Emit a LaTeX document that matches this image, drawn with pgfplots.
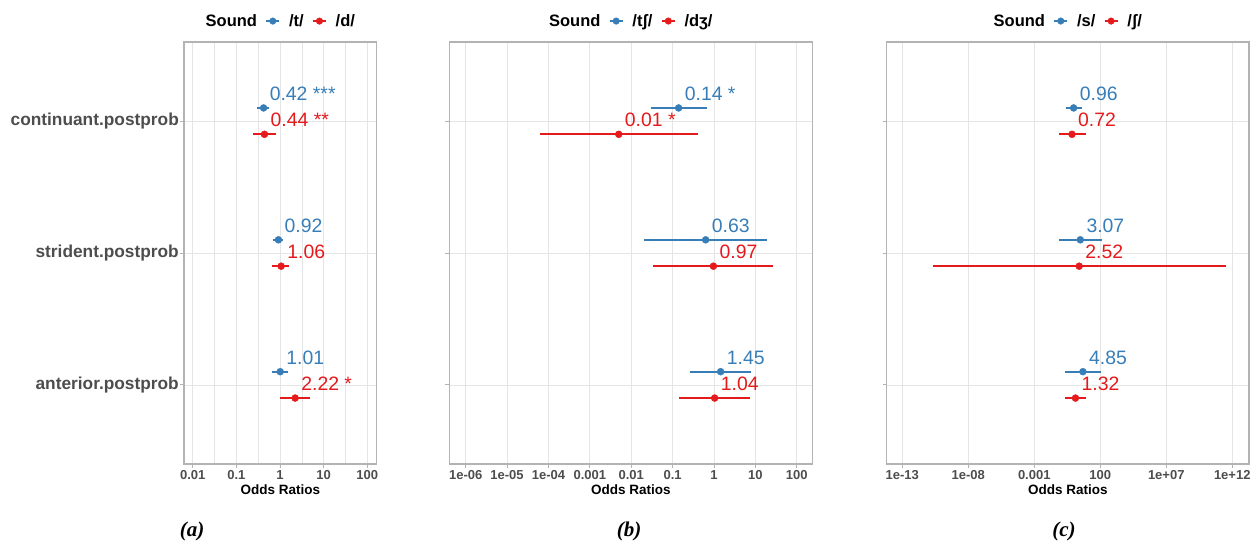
\documentclass[border=0pt]{standalone}
\usepackage{pgfplots}
\pgfplotsset{compat=1.18}
\usepackage{fontspec}
\setmainfont{Liberation Sans}
\newfontfamily\capfont{Liberation Serif}
\definecolor{blueC}{HTML}{377EB8}
\definecolor{redC}{HTML}{E41A1C}
\definecolor{gridC}{HTML}{E5E5E5}
\definecolor{frameC}{HTML}{B3B3B3}
\definecolor{textC}{HTML}{4D4D4D}
\newcommand{\ci}[4]{\addplot[#1, line width=1.8pt, forget plot] coordinates {(#2,#4) (#3,#4)};}
\pgfplotsset{
  every axis/.append style={
    scale only axis, height=422pt,
    ymin=0.4, ymax=3.6, ytick={1,2,3},
    axis line style={frameC, line width=1.2pt},
    tick style={frameC, line width=0.8pt}, tick align=outside, tick pos=left,
    major tick length=4pt, minor tick length=0pt,
    xmajorgrids, ymajorgrids, grid style={gridC, line width=0.7pt},
    minor grid style={gridC, line width=0.4pt},
    xticklabel style={font=\fontsize{13}{15}\selectfont\bfseries, text=textC, inner sep=0pt, yshift=-2pt},
    yticklabel style={font=\fontsize{17.3}{20}\selectfont\bfseries, text=textC, inner sep=0pt, xshift=-1pt},
    xlabel={Odds Ratios},
    xlabel style={font=\fontsize{13.5}{16}\selectfont\bfseries, at={(axis description cs:0.5,0)}, anchor=center, yshift=-26pt},
    legend columns=-1,
    legend style={draw=none, fill=none, at={(0.5,1)}, anchor=south, yshift=12pt, xshift=-3.5pt,
      font=\fontsize{16.5}{19}\selectfont\bfseries, inner sep=0pt,
      /tikz/every odd column/.append style={column sep=7pt},
      /tikz/every even column/.append style={column sep=6.5pt}},
  },
}
\begin{document}
\begin{tikzpicture}
\path[use as bounding box] (0pt,0pt) rectangle (1260pt,542pt);

% ---------- panel (a)
\begin{axis}[xmode=log, at={(184pt,78pt)}, anchor=south west, width=192.7pt,
  xmin=0.00631, xmax=164,
  xtick={0.01,0.1,1,10,100}, xticklabels={0.01,0.1,1,10,100},
  minor xtick={0.0316,0.316,3.16,31.6}, xminorgrids,
  yticklabels={anterior.postprob,strident.postprob,continuant.postprob}]
\addlegendimage{empty legend}\addlegendentry{Sound}
\addlegendimage{legend image code/.code={\draw[blueC,line width=1.5pt](0pt,0pt)--(13pt,0pt);\fill[blueC](6.5pt,0pt) circle (3.3pt);}}\addlegendentry{/t/}
\addlegendimage{legend image code/.code={\draw[redC,line width=1.5pt](0pt,0pt)--(13pt,0pt);\fill[redC](6.5pt,0pt) circle (3.3pt);}}\addlegendentry{/d/}
\ci{blueC}{0.30}{0.57}{3.1}
\ci{blueC}{0.68}{1.19}{2.1}
\ci{blueC}{0.66}{1.55}{1.1}
\ci{redC}{0.24}{0.81}{2.9}
\ci{redC}{0.67}{1.63}{1.9}
\ci{redC}{1.00}{4.87}{0.9}
\addplot[only marks, mark=*, mark size=3.5pt, color=blueC, forget plot, nodes near coords, point meta=explicit symbolic, nodes near coords style={anchor=west, inner sep=0pt, xshift=6pt, yshift=14pt, font=\fontsize{19.4}{22}\selectfont, text=blueC}] coordinates {(0.42,3.1) [0.42 ***] (0.92,2.1) [0.92] (1.01,1.1) [1.01]};
\addplot[only marks, mark=*, mark size=3.5pt, color=redC, forget plot, nodes near coords, point meta=explicit symbolic, nodes near coords style={anchor=west, inner sep=0pt, xshift=6pt, yshift=14pt, font=\fontsize{19.4}{22}\selectfont, text=redC}] coordinates {(0.44,2.9) [0.44 **] (1.06,1.9) [1.06] (2.22,0.9) [2.22 *]};
\end{axis}

% ---------- panel (b)
\begin{axis}[xmode=log, at={(449.3pt,78pt)}, anchor=south west, width=363pt,
  xmin=4.02e-7, xmax=238,
  xtick={1e-6,1e-5,1e-4,1e-3,1e-2,1e-1,1,10,100},
  xticklabels={1e-06,1e-05,1e-04,0.001,0.01,0.1,1,10,100},
  minor xtick={}, yticklabels={}]
\addlegendimage{empty legend}\addlegendentry{Sound}
\addlegendimage{legend image code/.code={\draw[blueC,line width=1.5pt](0pt,0pt)--(13pt,0pt);\fill[blueC](6.5pt,0pt) circle (3.3pt);}}\addlegendentry{/tʃ/}
\addlegendimage{legend image code/.code={\draw[redC,line width=1.5pt](0pt,0pt)--(13pt,0pt);\fill[redC](6.5pt,0pt) circle (3.3pt);}}\addlegendentry{/dʒ/}
\ci{blueC}{0.030}{0.69}{3.1}
\ci{blueC}{0.0203}{19.5}{2.1}
\ci{blueC}{0.263}{7.69}{1.1}
\ci{redC}{6.2e-5}{0.418}{2.9}
\ci{redC}{0.0342}{27.1}{1.9}
\ci{redC}{0.145}{7.41}{0.9}
\addplot[only marks, mark=*, mark size=3.5pt, color=blueC, forget plot, nodes near coords, point meta=explicit symbolic, nodes near coords style={anchor=west, inner sep=0pt, xshift=6pt, yshift=14pt, font=\fontsize{19.4}{22}\selectfont, text=blueC}] coordinates {(0.14,3.1) [0.14 *] (0.63,2.1) [0.63] (1.45,1.1) [1.45]};
\addplot[only marks, mark=*, mark size=3.5pt, color=redC, forget plot, nodes near coords, point meta=explicit symbolic, nodes near coords style={anchor=west, inner sep=0pt, xshift=6pt, yshift=14pt, font=\fontsize{19.4}{22}\selectfont, text=redC}] coordinates {(0.005,2.9) [0.01 *] (0.97,1.9) [0.97] (1.04,0.9) [1.04]};
\end{axis}

% ---------- panel (c)
\begin{axis}[xmode=log, at={(886.7pt,78pt)}, anchor=south west, width=362.3pt,
  xmin=6.6e-15, xmax=1.86e13,
  xtick={1e-13,1e-8,1e-3,1e2,1e7,1e12},
  xticklabels={1e-13,1e-08,0.001,100,1e+07,1e+12},
  minor xtick={}, yticklabels={}]
\addlegendimage{empty legend}\addlegendentry{Sound}
\addlegendimage{legend image code/.code={\draw[blueC,line width=1.5pt](0pt,0pt)--(13pt,0pt);\fill[blueC](6.5pt,0pt) circle (3.3pt);}}\addlegendentry{/s/}
\addlegendimage{legend image code/.code={\draw[redC,line width=1.5pt](0pt,0pt)--(13pt,0pt);\fill[redC](6.5pt,0pt) circle (3.3pt);}}\addlegendentry{/ʃ/}
\ci{blueC}{0.25}{3.9}{3.1}
\ci{blueC}{0.078}{128}{2.1}
\ci{blueC}{0.224}{107}{1.1}
\ci{redC}{0.078}{8.26}{2.9}
\ci{redC}{2.2e-11}{3.2e11}{1.9}
\ci{redC}{0.224}{8.26}{0.9}
\addplot[only marks, mark=*, mark size=3.5pt, color=blueC, forget plot, nodes near coords, point meta=explicit symbolic, nodes near coords style={anchor=west, inner sep=0pt, xshift=6pt, yshift=14pt, font=\fontsize{19.4}{22}\selectfont, text=blueC}] coordinates {(0.96,3.1) [0.96] (3.07,2.1) [3.07] (4.85,1.1) [4.85]};
\addplot[only marks, mark=*, mark size=3.5pt, color=redC, forget plot, nodes near coords, point meta=explicit symbolic, nodes near coords style={anchor=west, inner sep=0pt, xshift=6pt, yshift=14pt, font=\fontsize{19.4}{22}\selectfont, text=redC}] coordinates {(0.72,2.9) [0.72] (2.52,1.9) [2.52] (1.32,0.9) [1.32]};
\end{axis}

\node[font=\capfont\fontsize{21}{24}\selectfont\bfseries\itshape] at (192pt,11pt) {(a)};
\node[font=\capfont\fontsize{21}{24}\selectfont\bfseries\itshape] at (629pt,11pt) {(b)};
\node[font=\capfont\fontsize{21}{24}\selectfont\bfseries\itshape] at (1064pt,11pt) {(c)};
\end{tikzpicture}
\end{document}
